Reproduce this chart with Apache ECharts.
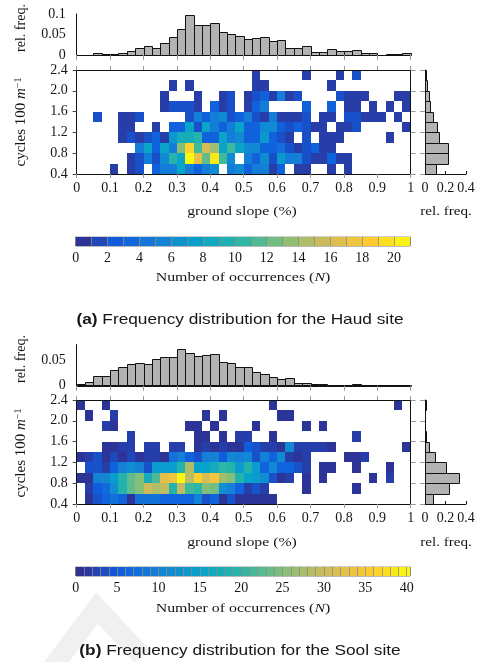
<!DOCTYPE html>
<html>
<head>
<meta charset="utf-8">
<title>Frequency distribution - Haud and Sool</title>
<script src="https://cdn.jsdelivr.net/npm/echarts@6/dist/echarts.min.js"></script>
<style>
	html,body{margin:0;padding:0;background:#fff;}
	#chart{width:481px;height:662px;}
</style>
</head>
<body>
<div id="chart"></div>
<script>
// ---- bins ----
var SLOPE_STEP = 0.025, CYCLE_STEP = 0.2;
var slopeBins = [];	// left edge of each slope bin, 0 .. 0.975
for(var k=0;k<40;k++){ slopeBins.push(+(k*SLOPE_STEP).toFixed(3)); }
var cycleBins = [2.2, 2.0, 1.8, 1.6, 1.4, 1.2, 1.0, 0.8, 0.6, 0.4];	// lower edge, top row first

// ---- Haud site ----
var haudSlopeFreq = [0.001,0.001,0.004,0.002,0.002,0.005,0.010,0.016,0.021,0.018,
	0.030,0.045,0.063,0.097,0.072,0.072,0.078,0.055,0.052,0.046,
	0.039,0.042,0.043,0.035,0.036,0.018,0.016,0.021,0.007,0.007,
	0.015,0.009,0.010,0.011,0.004,0.004,0.001,0.003,0.003,0.005];
var haudCycleFreq = [0.010,0.016,0.039,0.052,0.080,0.117,0.140,0.227,0.227,0.104];
var haudCounts = [
	[0,0,0,0,0,0,0,0,0,0, 0,0,0,0,0,0,0,0,0,0, 0,1,0,0,0,0,0,1,0,0, 0,1,0,2,0,0,0,0,0,0],
	[0,0,0,0,0,0,0,0,0,0, 0,1,0,1,0,0,0,0,0,0, 0,1,1,0,0,0,0,0,0,0, 1,0,0,0,0,0,0,0,0,0],
	[0,0,0,0,0,0,0,0,0,0, 1,0,0,0,1,0,0,1,2,0, 1,2,3,1,5,1,2,0,0,0, 0,2,1,1,1,0,0,0,1,1],
	[0,0,0,0,0,0,0,0,0,0, 1,2,2,2,1,0,3,1,2,0, 1,3,5,0,0,0,0,3,0,0, 3,0,1,1,0,1,0,1,0,1],
	[0,0,2,0,0,1,1,2,0,0, 0,0,0,2,5,3,5,6,2,3, 5,2,1,5,1,1,1,2,0,1, 1,0,2,2,1,1,1,0,1,0],
	[0,0,0,0,0,1,1,0,0,1, 0,3,3,8,2,8,5,3,5,8, 3,3,6,6,3,2,3,2,1,1, 0,1,1,2,0,0,0,0,0,1],
	[0,0,0,0,0,1,2,1,2,3, 1,7,9,9,10,3,3,8,5,6, 3,3,7,3,2,1,0,2,0,1, 1,1,0,0,0,0,0,1,0,0],
	[0,0,0,0,0,0,0,5,8,3, 8,5,13,19,11,16,14,8,11,8, 6,6,3,3,4,2,1,2,3,1, 1,0,0,0,0,0,0,0,0,0],
	[0,0,0,0,0,0,1,2,5,2, 6,10,8,21,17,12,20,11,6,0, 5,3,6,2,7,5,5,2,1,1, 3,1,1,0,0,0,0,0,0,0],
	[0,0,0,0,1,0,1,2,0,3, 5,5,8,5,3,5,6,0,5,6, 3,5,5,1,3,0,1,1,0,0, 1,0,1,0,0,0,0,0,0,0]
];
var HAUD_MAX = 21;

// ---- Sool site ----
var soolSlopeFreq = [0.003,0.008,0.018,0.019,0.030,0.037,0.043,0.045,0.042,0.051,
	0.056,0.056,0.072,0.063,0.058,0.059,0.061,0.047,0.045,0.037,
	0.036,0.026,0.023,0.017,0.013,0.015,0.005,0.006,0.003,0.003,
	0.001,0.001,0.001,0.003,0.001,0.001,0.001,0.002,0.001,0.001];
var soolCycleFreq = [0.005,0.003,0.003,0.010,0.042,0.094,0.208,0.335,0.237,0.075];
var soolCounts = [
	[1,0,0,1,0,0,0,0,0,0, 0,0,0,0,0,0,0,0,0,0, 0,0,0,1,0,0,0,0,0,0, 0,0,0,0,0,0,0,0,1,0],
	[0,1,0,0,2,0,0,0,0,0, 0,0,0,0,0,1,0,1,0,0, 0,0,0,0,1,1,0,0,0,0, 0,0,0,0,0,0,0,0,0,0],
	[0,0,0,2,1,0,0,0,0,0, 0,0,0,1,1,0,1,0,0,0, 0,1,0,0,0,0,0,1,0,1, 0,0,0,0,0,0,0,0,0,0],
	[0,0,0,0,0,0,2,0,0,0, 0,0,0,0,1,1,0,1,0,2, 2,0,0,1,0,0,0,0,0,0, 0,0,0,2,0,0,0,0,0,0],
	[0,0,0,1,1,2,2,0,2,2, 0,2,2,0,1,2,1,2,1,1, 5,4,2,2,1,11,2,2,2,2, 1,0,0,0,0,0,0,0,0,1],
	[1,2,4,1,3,1,3,1,2,2, 1,8,10,6,4,10,10,5,11,10, 11,4,10,6,11,2,1,2,0,0, 0,0,1,1,2,0,0,0,0,0],
	[0,4,4,2,6,10,12,10,4,14, 14,14,19,28,15,15,17,20,19,14, 19,14,6,11,6,6,4,2,0,1, 1,0,0,1,0,0,0,1,0,0],
	[1,1,10,11,14,19,23,25,17,22, 32,34,40,29,36,31,34,27,25,19, 15,14,12,4,1,2,0,1,0,1, 0,0,0,0,0,1,0,2,0,0],
	[0,2,5,7,12,19,23,25,30,28, 29,19,29,21,20,25,24,12,10,6, 2,4,2,0,0,0,0,1,0,0, 0,0,0,1,0,0,0,0,0,0],
	[0,1,4,6,8,6,1,8,8,8, 6,6,6,6,10,4,6,1,4,1, 1,1,1,1,0,0,0,0,0,0, 0,0,0,0,0,0,0,0,0,0]
];
var SOOL_MAX = 40.4;

var PARULA = ['#352a87','#0f5cdd','#1481d6','#06a4ca','#2eb7a4','#87bf77','#d1bb59','#fec832','#f9fb0e'];
var SERIF = '"Liberation Serif", "DejaVu Serif", serif';
var SANS = '"Liberation Sans", Arial, sans-serif';
var TXT = '#161616';
var TICK_GRAY = '#9a9a9a';

// ---- data builders ----
function cellData(counts){
	var out = [];
	for(var r=0;r<counts.length;r++){
		for(var c=0;c<counts[r].length;c++){
			if(counts[r][c] > 0){ out.push([slopeBins[c], cycleBins[r], counts[r][c]]); }
		}
	}
	return out;
}
function pairs(keys, vals){
	var out = [];
	for(var i=0;i<keys.length;i++){ out.push([keys[i], vals[i]]); }
	return out;
}
function barSteps(max){
	var out = [];
	for(var i=0;i<max;i++){ out.push([i, Math.min(i+1,max), Math.min(i+0.5,(i+max)/2)]); }
	return out;
}

// ---- render items ----
function rectBetween(a, b){
	var x0 = Math.round(Math.min(a[0],b[0])), x1 = Math.round(Math.max(a[0],b[0]));
	var y0 = Math.round(Math.min(a[1],b[1])), y1 = Math.round(Math.max(a[1],b[1]));
	return {x:x0, y:y0, width:x1-x0, height:y1-y0};
}
function renderCell(params, api){
	var x = api.value(0), y = api.value(1);
	return {type:'rect', shape:rectBetween(api.coord([x,y]), api.coord([x+SLOPE_STEP,y+CYCLE_STEP])),
		style:{fill:api.visual('color')}};
}
function renderTopBar(params, api){
	var x = api.value(0), v = api.value(1);
	var s = rectBetween(api.coord([x,0]), api.coord([x+SLOPE_STEP,v]));
	s.x += 0.5; s.y += 0.5;
	return {type:'rect', shape:s, style:{fill:'#b3b3b3', stroke:'#111', lineWidth:1}};
}
function renderSideBar(params, api){
	var y = api.value(0), v = api.value(1);
	var s = rectBetween(api.coord([0,y]), api.coord([v,y+CYCLE_STEP]));
	s.x += 0.5; s.y += 0.5;
	return {type:'rect', shape:s, style:{fill:'#b3b3b3', stroke:'#111', lineWidth:1}};
}
function renderColorStep(params, api){
	return {type:'rect', shape:rectBetween(api.coord([api.value(0),0]), api.coord([api.value(1),1])),
		style:{fill:api.visual('color')}};
}

// ---- axes ----
function axis(o){
	var base = {
		type:'value', splitLine:{show:false}, z:5,
		axisLine:{onZero:false, lineStyle:{color:'#111', width:1}},
		axisTick:{show:false, lineStyle:{color:TICK_GRAY, width:1}},
		axisLabel:{show:false, fontFamily:SERIF, fontSize:14, color:TXT}
	};
	return echarts.util.merge(base, o, true);
}
function onStep(step){
	return function(v){
		var q = v/step;
		return Math.abs(q - Math.round(q)) < 1e-6 ? String(+v.toFixed(3)) : '';
	};
}

function panelAxes(g, histMax, barMax, barInterval){
	var x = [
		axis({gridIndex:g, min:0, max:1, interval:0.1, axisTick:{show:true, length:5}}),
		axis({gridIndex:g+1, min:0, max:1, interval:0.1, axisTick:{show:true, length:4},
			axisLabel:{show:true, margin:7}}),
		axis({gridIndex:g+1, position:'top', min:0, max:1, interval:0.1, axisTick:{show:true, length:4}}),
		axis({gridIndex:g+2, min:0, max:0.4, interval:0.2, axisTick:{show:true, inside:true, length:3, lineStyle:{color:'#111'}},
			axisLabel:{show:true, margin:7}}),
		axis({gridIndex:g+3, min:0, max:barMax, interval:barInterval, axisLine:{show:false},
			axisTick:{show:true, inside:true, length:9, lineStyle:{color:'#8a8a8a', width:0.8}},
			minorTick:{show:true, splitNumber:barInterval, length:9, lineStyle:{color:'#8a8a8a', width:0.8}},
			axisLabel:{show:true, margin:6, formatter:onStep(barInterval)}})
	];
	var y = [
		axis({gridIndex:g, min:0, max:histMax, interval:0.05, axisLabel:{show:true, margin:11, formatter:onStep(0.05)}}),
		axis({gridIndex:g+1, min:0.4, max:2.4, interval:0.4, axisTick:{show:true, length:4, lineStyle:{color:'#444'}},
			axisLabel:{show:true, margin:9, formatter:function(v){ return v.toFixed(1); }}}),
		axis({gridIndex:g+1, position:'right', min:0.4, max:2.4, interval:0.4, axisTick:{show:true, length:5}}),
		axis({gridIndex:g+2, min:0.4, max:2.4, interval:0.4, axisTick:{show:true, length:5}}),
		axis({gridIndex:g+3, min:0, max:1, show:false})
	];
	return {x:x, y:y};
}

var haudAxes = panelAxes(0, 0.1, HAUD_MAX, 2);
var soolAxes = panelAxes(4, 0.08, SOOL_MAX, 5);

function panelSeries(a, slopeFreq, cycleFreq, counts, barMax){
	// a: first axis index of this panel
	return [
		{type:'custom', xAxisIndex:a, yAxisIndex:a, data:pairs(slopeBins, slopeFreq), renderItem:renderTopBar, z:2},
		{type:'custom', xAxisIndex:a+1, yAxisIndex:a+1, data:cellData(counts), renderItem:renderCell, z:2},
		{type:'custom', xAxisIndex:a+3, yAxisIndex:a+3, data:pairs(cycleBins, cycleFreq), renderItem:renderSideBar, z:2},
		{type:'custom', xAxisIndex:a+4, yAxisIndex:a+4, data:barSteps(barMax), renderItem:renderColorStep, z:2}
	];
}

// text helper; the source figure's lettering is a little wider than tall, hence sx
function label(x, y, text, rich, rot, sx){
	return {type:'text', x:x, y:y, rotation:rot||0, scaleX:sx||1, z:10,
		style:{text:text, rich:rich, align:'center', verticalAlign:'middle', fill:TXT,
			font:'14px '+SERIF}};
}
function serifRich(size){
	return {
		r:{fontFamily:SERIF, fontSize:size, color:TXT},
		i:{fontFamily:SERIF, fontSize:size, fontStyle:'italic', color:TXT},
		s:{fontFamily:SERIF, fontSize:Math.round(size*0.68), color:TXT, verticalAlign:'top'}
	};
}
var capRich = {
	b:{fontFamily:SANS, fontSize:14.5, fontWeight:'bold', color:'#111'},
	r:{fontFamily:SANS, fontSize:14.5, color:'#111'}
};
function panelText(dy, site, tag){
	return [
		label(21, 28+dy, '{r|rel. freq.}', serifRich(14), Math.PI/2),
		label(21, 122+dy, '{r|cycles 100 }{i|m}{s|\u22121}', serifRich(15), Math.PI/2),
		label(242, 211+dy, '{r|ground slope (%)}', serifRich(13.5), 0, 1.17),
		label(446, 211+dy, '{r|rel. freq.}', serifRich(13.5), 0, 1.12),
		label(243, 277+dy, '{r|Number of occurrences (}{i|N}{r|)}', serifRich(13.5), 0, 1.18),
		label(240, 320+dy, '{b|(' + tag + ')}{r| Frequency distribution for the ' + site + ' site}', capRich, 0, 1.19)
	];
}

var grids = [];
function panelGrids(dy, histTop, histH){
	grids.push({left:76.7, top:histTop, width:334, height:histH, containLabel:false});
	grids.push({left:76.7, top:70+dy, width:334, height:104});
	grids.push({left:425, top:70+dy, width:41, height:104});
	grids.push({left:75.7, top:237.3+dy, width:334.3, height:8.5, show:true, borderColor:'#111', borderWidth:1});
}
panelGrids(0, 14, 41);
panelGrids(330, 344.6, 41.1);

var option = {
	animation:false,
	backgroundColor:'#fff',
	grid:grids,
	xAxis:haudAxes.x.concat(soolAxes.x),
	yAxis:haudAxes.y.concat(soolAxes.y),
	visualMap:[
		{type:'continuous', show:false, min:0, max:HAUD_MAX, dimension:2, seriesIndex:[1,3], inRange:{color:PARULA}},
		{type:'continuous', show:false, min:0, max:SOOL_MAX, dimension:2, seriesIndex:[5,7], inRange:{color:PARULA}}
	],
	series:panelSeries(0, haudSlopeFreq, haudCycleFreq, haudCounts, HAUD_MAX)
		.concat(panelSeries(5, soolSlopeFreq, soolCycleFreq, soolCounts, SOOL_MAX)),
	graphic:[
		// faint watermark chevron in the lower left corner
		{type:'polyline', z:-1, silent:true, shape:{points:[[28,700],[97,608],[142,656]]},
			style:{stroke:'#f0f0f0', lineWidth:20, fill:null}}
	].concat(panelText(0, 'Haud', 'a'), panelText(331, 'Sool', 'b'))
};

var chart = echarts.init(document.getElementById('chart'), null, {renderer:'canvas'});
chart.setOption(option);
</script>
</body>
</html>
